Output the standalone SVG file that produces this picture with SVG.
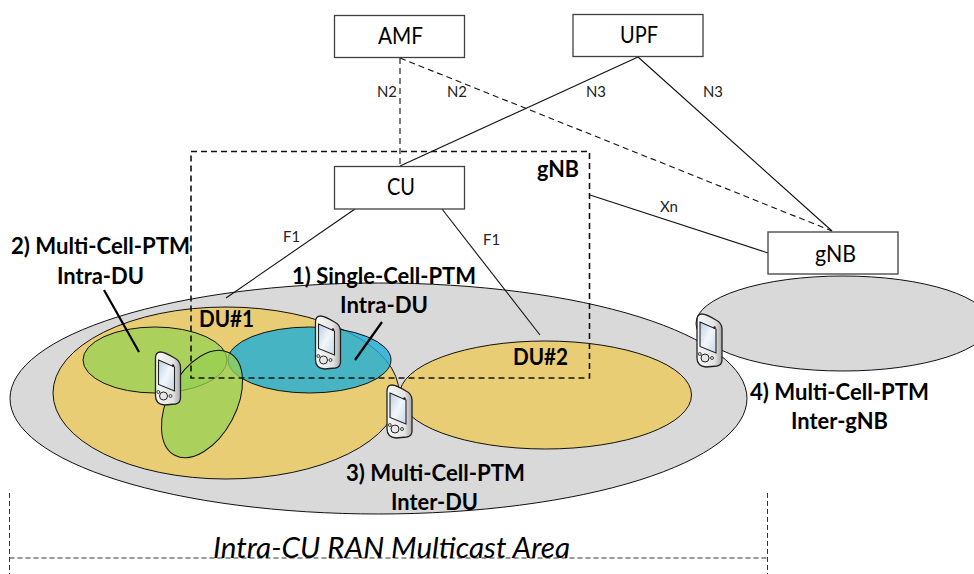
<svg xmlns="http://www.w3.org/2000/svg" xmlns:xlink="http://www.w3.org/1999/xlink" width="974" height="574" viewBox="0 0 974 574">
<style>
text{font-family:Lato,"Open Sans","Liberation Sans",sans-serif;fill:#000}
.box{fill:#fff;stroke:#404040;stroke-width:1.3}
.bl{font-size:23px}
.sm{font-size:16px;fill:#222}
.b{font-size:23px;font-weight:700}
.cell{stroke:#111;stroke-width:1}
.grey{fill:#d9d9d9}
.yel{fill:#e8cd75}
.grn{fill:#97d053;fill-opacity:.75}
.blu{fill:#1eaed8;fill-opacity:.8}
.ln{fill:none;stroke:#111;stroke-width:1.1}
.dl{fill:none;stroke:#111;stroke-width:1.1;stroke-dasharray:6 4}
.dg{fill:none;stroke:#111;stroke-width:1.6;stroke-dasharray:6 4}
.ptr{stroke:#000;stroke-width:2.2}
.dim{fill:none;stroke:#333;stroke-width:1;stroke-dasharray:5 3}
</style>
<defs>
<linearGradient id="ph" x1="0" x2="1" y1="0" y2="0"><stop offset="0" stop-color="#f8f8f8"/><stop offset=".7" stop-color="#e4e4e4"/><stop offset="1" stop-color="#a8a8a8"/></linearGradient>
<linearGradient id="sc" x1="0" x2="1" y1="0" y2="1"><stop offset="0" stop-color="#b8cfe6"/><stop offset=".5" stop-color="#f2f6fb"/><stop offset="1" stop-color="#c8d8e8"/></linearGradient>
<symbol id="phone" viewBox="0 0 27 54" width="27" height="54" overflow="visible">
<path d="M1 7 Q1 1 6 1 Q10 1 20 7 Q26 10 26 16 L26 47 Q26 52 21 53 L10 54 Q1 53 1 45 Z" fill="url(#ph)" stroke="#222" stroke-width="1.300"/>
<path d="M4 9 L20 16 L20 40 L4 33.500 Z" fill="url(#sc)" stroke="#222" stroke-width="1.100"/>
<circle cx="18.500" cy="14.500" r="1.200" fill="#222"/>
<circle cx="9" cy="45" r="4" fill="#e8e8e8" stroke="#222" stroke-width="1"/>
<circle cx="3.800" cy="41" r="1.500" fill="#ddd" stroke="#222" stroke-width=".8"/>
<circle cx="16" cy="45" r="1.500" fill="#ddd" stroke="#222" stroke-width=".8"/>
</symbol>
</defs>

<g id="cells">
<ellipse class="cell grey" cx="378.500" cy="398.500" rx="368.500" ry="115.500"/>
<ellipse class="cell grey" cx="843" cy="323.500" rx="147" ry="47.500"/>
<ellipse class="cell yel" cx="226" cy="393" rx="173" ry="86"/>
<ellipse class="cell yel" cx="545.500" cy="395" rx="146" ry="54"/>
<ellipse class="cell grn" cx="155" cy="360" rx="72" ry="33"/>
<ellipse class="cell blu" cx="309.500" cy="360" rx="81.500" ry="33"/>
<ellipse class="cell grn" cx="202" cy="404" rx="58" ry="34" transform="rotate(-62 202 404)"/>
</g>

<g id="connectors">
<line class="dl" x1="400" y1="58" x2="400" y2="166"/>
<line class="dl" x1="400" y1="58" x2="832" y2="231"/>
<line class="ln" x1="638" y1="57" x2="400" y2="166"/>
<line class="ln" x1="638" y1="57" x2="832" y2="231"/>
<line class="ln" x1="590" y1="195" x2="768" y2="253"/>
<line class="ln" x1="355" y1="209" x2="226" y2="298"/>
<line class="ln" x1="442" y1="209" x2="540" y2="335"/>
<line class="ptr" x1="104" y1="290" x2="139" y2="352"/>
<line class="ptr" x1="382" y1="322" x2="355" y2="360"/>
<line class="dim" x1="9.500" y1="493" x2="9.500" y2="574"/>
<line class="dim" x1="767.500" y1="493" x2="767.500" y2="574"/>
<line class="dim" x1="9.500" y1="558" x2="767.500" y2="558"/>
</g>

<g id="gnb-area"><rect class="dg" x="191" y="151.500" width="398.500" height="226.500"/>
<text class="b" x="537" y="177" textLength="42" lengthAdjust="spacingAndGlyphs">gNB</text></g>

<g id="amf"><rect class="box" x="334.500" y="15.500" width="130" height="42"/><text class="bl" x="378" y="44" textLength="45" lengthAdjust="spacingAndGlyphs">AMF</text></g>
<g id="upf"><rect class="box" x="573" y="14.500" width="130" height="42"/><text class="bl" x="620" y="43" textLength="38" lengthAdjust="spacingAndGlyphs">UPF</text></g>
<g id="cu"><rect class="box" x="334.500" y="166.500" width="130" height="42.500"/><text class="bl" x="387" y="195" textLength="28" lengthAdjust="spacingAndGlyphs">CU</text></g>
<g id="gnb2"><rect class="box" x="768" y="232" width="130" height="42"/><text class="bl" x="815" y="262" textLength="41" lengthAdjust="spacingAndGlyphs">gNB</text></g>

<g id="ue1"><use xlink:href="#phone" href="#phone" x="314.500" y="315"/></g>
<g id="ue2"><use xlink:href="#phone" href="#phone" x="154.500" y="351"/></g>
<g id="ue3"><use xlink:href="#phone" href="#phone" x="386" y="384"/></g>
<g id="ue4"><use xlink:href="#phone" href="#phone" x="696" y="313"/></g>

<g id="labels">
<text class="sm" x="377" y="97" textLength="20" lengthAdjust="spacingAndGlyphs">N2</text>
<text class="sm" x="447" y="97" textLength="20" lengthAdjust="spacingAndGlyphs">N2</text>
<text class="sm" x="586" y="97" textLength="20" lengthAdjust="spacingAndGlyphs">N3</text>
<text class="sm" x="703" y="97" textLength="20" lengthAdjust="spacingAndGlyphs">N3</text>
<text class="sm" x="283" y="242" textLength="17" lengthAdjust="spacingAndGlyphs">F1</text>
<text class="sm" x="483" y="245" textLength="17" lengthAdjust="spacingAndGlyphs">F1</text>
<text class="sm" x="660" y="212" textLength="18" lengthAdjust="spacingAndGlyphs">Xn</text>
<text class="b" x="11" y="254" textLength="179" lengthAdjust="spacingAndGlyphs">2) Multi-Cell-PTM</text>
<text class="b" x="57" y="284" textLength="87" lengthAdjust="spacingAndGlyphs">Intra-DU</text>
<text class="b" x="292" y="284" textLength="184" lengthAdjust="spacingAndGlyphs">1) Single-Cell-PTM</text>
<text class="b" x="340" y="313" textLength="88" lengthAdjust="spacingAndGlyphs">Intra-DU</text>
<text class="b" x="199" y="327" textLength="55" lengthAdjust="spacingAndGlyphs">DU#1</text>
<text class="b" x="513" y="365" textLength="55" lengthAdjust="spacingAndGlyphs">DU#2</text>
<text class="b" x="346" y="481" textLength="179" lengthAdjust="spacingAndGlyphs">3) Multi-Cell-PTM</text>
<text class="b" x="391" y="510" textLength="87" lengthAdjust="spacingAndGlyphs">Inter-DU</text>
<text class="b" x="750" y="400" textLength="179" lengthAdjust="spacingAndGlyphs">4) Multi-Cell-PTM</text>
<text class="b" x="791" y="429" textLength="97" lengthAdjust="spacingAndGlyphs">Inter-gNB</text>
<text x="213" y="558" font-size="28" font-style="italic" textLength="357" lengthAdjust="spacingAndGlyphs">Intra-CU RAN Multicast Area</text>
</g>
</svg>
